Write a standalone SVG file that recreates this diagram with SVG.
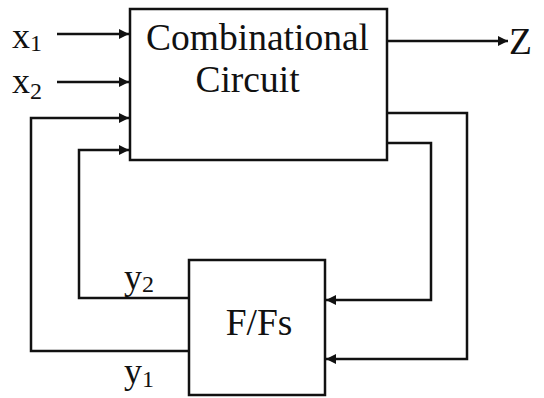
<svg xmlns="http://www.w3.org/2000/svg" width="544" height="398" viewBox="0 0 544 398">
<defs>
<marker id="ah" viewBox="0 0 10 10" refX="10" refY="5" markerWidth="10" markerHeight="10" markerUnits="userSpaceOnUse" orient="auto">
<path d="M0,0 L10,5 L0,10 Z" fill="#111"/>
</marker>
<style>
.box{fill:#fff;stroke:#111;stroke-width:2.5}
.ln{fill:none;stroke:#111;stroke-width:2.5}
.ar{marker-end:url(#ah)}
.t{font-family:"Liberation Serif","Times New Roman",serif;fill:#111}
</style>
</defs>
<rect width="544" height="398" fill="#fff"/>
<g id="connectors">
<path class="ln ar" d="M57,34 H129"/>
<path class="ln ar" d="M57,82 H129"/>
<path class="ln ar" d="M189,351 H31 V118 H129"/>
<path class="ln ar" d="M189,298 H79 V150 H129"/>
<path class="ln ar" d="M387,41 H508"/>
<path class="ln ar" d="M387,113 H467 V359 H326"/>
<path class="ln ar" d="M387,143 H431 V300 H326"/>
</g>
<g id="comb">
<rect class="box" x="130" y="9" width="257" height="151"/>
<text class="t" x="257.5" y="50" font-size="37.5" text-anchor="middle">Combinational</text>
<text class="t" x="247.5" y="92" font-size="37.5" text-anchor="middle">Circuit</text>
</g>
<g id="ffs">
<rect class="box" x="189" y="260" width="136" height="135"/>
<text class="t" x="259" y="335" font-size="37.5" text-anchor="middle">F/Fs</text>
</g>
<g id="labels">
<text class="t" x="12" y="48" font-size="36">x<tspan font-size="24" dy="3">1</tspan></text>
<text class="t" x="12" y="93" font-size="36">x<tspan font-size="24" dy="6">2</tspan></text>
<text class="t" x="509" y="54" font-size="37.5">Z</text>
<text class="t" x="124" y="289" font-size="36">y<tspan font-size="24" dy="3">2</tspan></text>
<text class="t" x="124" y="383" font-size="36">y<tspan font-size="24" dy="4">1</tspan></text>
</g>
</svg>
